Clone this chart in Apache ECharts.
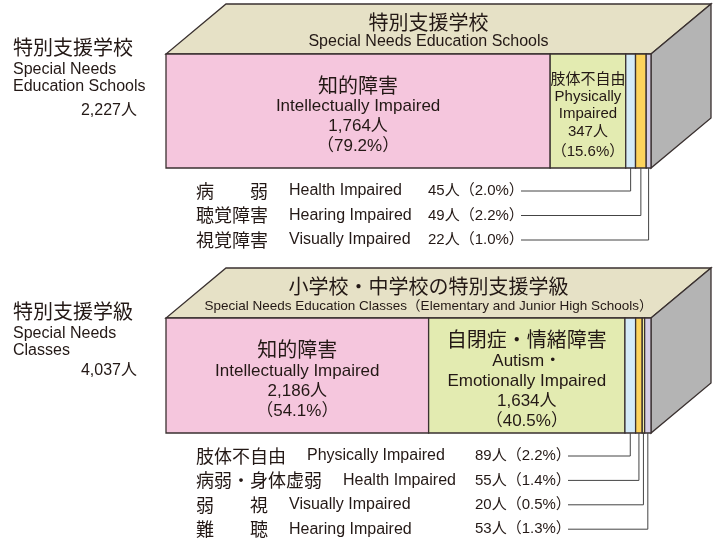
<!DOCTYPE html>
<html>
<head>
<meta charset="utf-8">
<script src="https://cdn.jsdelivr.net/npm/echarts@6/dist/echarts.min.js"></script>
<style>
html, body { margin: 0; padding: 0; background: #fff; }
#chart { width: 723px; height: 539px; }
</style>
</head>
<body>
<div id="chart"></div>
<script>
// 特別支援学校
const schoolTitleJa = "特別支援学校";
const schoolTitleEn = "Special Needs Education Schools";
const schoolSideLabel = ["特別支援学校", "Special Needs", "Education Schools"];
const schoolNamesJa = ["知的障害", "肢体不自由", "病　　弱", "聴覚障害", "視覚障害"];
const schoolNamesEn = ["Intellectually Impaired", "Physically\nImpaired", "Health Impaired", "Hearing Impaired", "Visually Impaired"];
const schoolCounts = [1764, 347, 45, 49, 22];

// 小学校・中学校の特別支援学級
const classTitleJa = "小学校・中学校の特別支援学級";
const classTitleEn = "Special Needs Education Classes（Elementary and Junior High Schools）";
const classSideLabel = ["特別支援学級", "Special Needs", "Classes"];
const classNamesJa = ["知的障害", "自閉症・情緒障害", "肢体不自由", "病弱・身体虚弱", "弱　　視", "難　　聴"];
const classNamesEn = ["Intellectually Impaired", "Autism・\nEmotionally Impaired", "Physically Impaired", "Health Impaired", "Visually Impaired", "Hearing Impaired"];
const classCounts = [2186, 1634, 89, 55, 20, 53];

const TEXT = "#231815";
const EDGE = "#3a3130";
const JA = "'Noto Sans CJK JP'";
const EN = "'Liberation Sans', 'Noto Sans CJK JP', sans-serif";
const DX = 60, DY = 50; // 奥行き

const sum = (arr) => arr.reduce((a, b) => a + b, 0);
const addCommas = echarts.format.addCommas;

const boxes = [
  {
    titleJa: schoolTitleJa, titleEn: schoolTitleEn, titleEnFont: "16px " + EN,
    side: schoolSideLabel, sideY: [47, 70, 87, 111],
    namesJa: schoolNamesJa, namesEn: schoolNamesEn, counts: schoolCounts,
    colors: ["#f5c6dd", "#e3ebb1", "#d4ebf8", "#fdd35c", "#d5cde6"],
    legendTop: 191, legendGap: 24.5, countX: 428, lineX: 521,
  },
  {
    titleJa: classTitleJa, titleEn: classTitleEn, titleEnFont: "13.5px " + EN,
    side: classSideLabel, sideY: [311, 334, 351, 371],
    namesJa: classNamesJa, namesEn: classNamesEn, counts: classCounts,
    colors: ["#f5c6dd", "#e3ebb1", "#d4ebf8", "#fdd35c", "#f8f2a6", "#d5cde6"],
    legendTop: 456, legendGap: 24.4, countX: 475, lineX: 568,
  },
];
boxes.forEach((b) => { b.total = sum(b.counts); });

const pct = (b, i) => (b.counts[i] / b.total * 100).toFixed(1);

// 上面・側面・見出し
function renderFaces(b) {
  return function (params, api) {
    const tl = api.coord([0, 1]);
    const br = api.coord([api.value(1), 0]);
    const L = tl[0], T = tl[1], R = br[0], B = br[1];
    const cx = (L + R) / 2 + 20;
    return {
      type: "group",
      children: [
        { type: "polygon", shape: { points: [[L, T], [R, T], [R + DX, T - DY], [L + DX, T - DY]] },
          style: { fill: "#e6e1c6", stroke: EDGE, lineWidth: 1.3 } },
        { type: "polygon", shape: { points: [[R, T], [R + DX, T - DY], [R + DX, B - DY], [R, B]] },
          style: { fill: "#b4b4b4", stroke: EDGE, lineWidth: 1.3 } },
        { type: "text", x: cx, y: T - 32,
          style: { text: b.titleJa, font: "20px " + JA, fill: TEXT, align: "center", verticalAlign: "middle" } },
        { type: "text", x: cx, y: T - 12,
          style: { text: b.titleEn, font: b.titleEnFont, fill: TEXT, align: "center", verticalAlign: "middle" } },
        { type: "text", x: 13, y: b.sideY[0],
          style: { text: b.side[0], font: "20px " + JA, fill: TEXT, verticalAlign: "middle" } },
        { type: "text", x: 13, y: b.sideY[1],
          style: { text: b.side[1], font: "16px " + EN, fill: TEXT, verticalAlign: "middle" } },
        { type: "text", x: 13, y: b.sideY[2],
          style: { text: b.side[2], font: "16px " + EN, fill: TEXT, verticalAlign: "middle" } },
        { type: "text", x: 137, y: b.sideY[3],
          style: { text: addCommas(b.total) + "人", font: "16px " + EN, fill: TEXT, align: "right", verticalAlign: "middle" } },
      ],
    };
  };
}

// 前面の区分
function renderSegments(b) {
  return function (params, api) {
    const i = api.value(2);
    const tl = api.coord([api.value(0), 1]);
    const br = api.coord([api.value(1), 0]);
    const w = br[0] - tl[0];
    const cx = (tl[0] + br[0]) / 2;
    const children = [
      { type: "rect", shape: { x: tl[0], y: tl[1], width: w, height: br[1] - tl[1] },
        style: { fill: b.colors[i], stroke: EDGE, lineWidth: 1.3 } },
    ];
    if (i < 2) {
      const narrow = w < 110;
      const lines = ["{ja|" + b.namesJa[i] + "}"];
      b.namesEn[i].split("\n").forEach((s) => lines.push("{en|" + s + "}"));
      lines.push("{num|" + addCommas(b.counts[i]) + "人}");
      lines.push("{num|（" + pct(b, i) + "%）}");
      children.push({
        type: "text", x: cx, y: (tl[1] + br[1]) / 2 + 4,
        style: {
          text: lines.join("\n"), fill: TEXT, align: "center", verticalAlign: "middle",
          rich: {
            ja: { font: (narrow ? "15px " : "20px ") + JA, lineHeight: narrow ? 20 : 23, fill: TEXT },
            en: { font: (narrow ? "15px " : "17px ") + EN, lineHeight: narrow ? 17 : 20, fill: TEXT },
            num: { font: (narrow ? "15px " : "17px ") + EN, lineHeight: 20, fill: TEXT },
          },
        },
      });
    } else {
      const rowY = b.legendTop + (i - 2) * b.legendGap;
      children.push(
        { type: "polyline", shape: { points: [[cx, br[1]], [cx, rowY], [b.lineX, rowY]] },
          style: { stroke: "#444", lineWidth: 1, fill: null } },
        { type: "text", x: 196, y: rowY,
          style: {
            text: "{ja|" + b.namesJa[i] + "}{en|" + b.namesEn[i] + "}", verticalAlign: "middle",
            rich: {
              ja: { font: "18px " + JA, fill: TEXT, padding: [0, 21, 0, 0], verticalAlign: "middle" },
              en: { font: "16px " + EN, fill: TEXT, verticalAlign: "middle" },
            },
          } },
        { type: "text", x: b.countX, y: rowY,
          style: { text: b.counts[i] + "人（" + pct(b, i) + "%）", font: "15px " + EN, fill: TEXT, verticalAlign: "middle" } }
      );
    }
    return { type: "group", children: children };
  };
}

const series = [];
boxes.forEach((b, k) => {
  series.push({
    type: "custom", xAxisIndex: k, yAxisIndex: k, silent: true, z: 1,
    data: [[0, b.total]],
    renderItem: renderFaces(b),
  });
  let start = 0;
  const segs = b.counts.map((c, i) => {
    const item = [start, start + c, i];
    start += c;
    return item;
  });
  series.push({
    type: "custom", xAxisIndex: k, yAxisIndex: k, silent: true, z: 2,
    data: segs,
    renderItem: renderSegments(b),
  });
});

const option = {
  animation: false,
  grid: [
    { left: 166, width: 485, top: 54, height: 114 },
    { left: 166, width: 485, top: 318, height: 115 },
  ],
  xAxis: boxes.map((b, k) => ({ gridIndex: k, type: "value", min: 0, max: b.total, show: false })),
  yAxis: boxes.map((b, k) => ({ gridIndex: k, type: "value", min: 0, max: 1, show: false })),
  series: series,
};

const myChart = echarts.init(document.getElementById("chart"));
myChart.setOption(option);
</script>
</body>
</html>
